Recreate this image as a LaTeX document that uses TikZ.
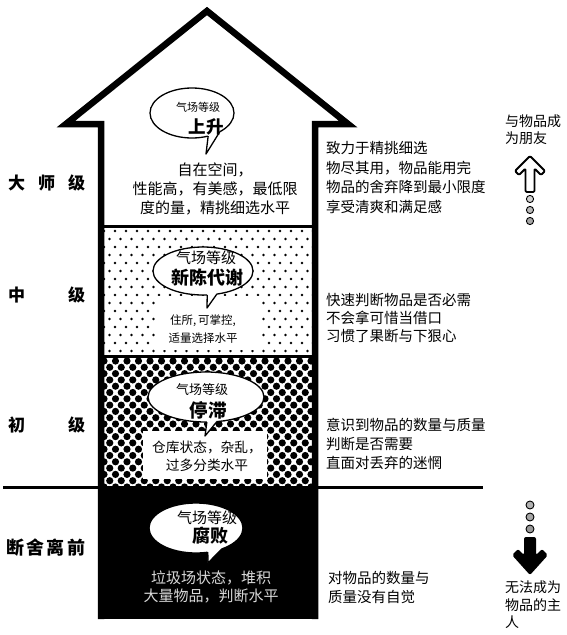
\documentclass[tikz,border=0pt]{standalone}
\usepackage{fontspec}
\setmainfont{Noto Sans CJK SC}
\usetikzlibrary{shapes.geometric,calc}
\tikzset{
  lbl/.style={anchor=west, inner sep=0pt, font=\fontsize{17}{17}\selectfont\bfseries},
  rtext/.style={anchor=west, align=left, inner sep=0pt},
  ctext/.style={align=center, inner sep=0pt},
  bubble/.style={ellipse, draw, fill=white, line width=1.3pt, inner sep=0pt, outer sep=0pt},
  tailline/.style={line width=1.3pt, line join=round},
  kicker/.style={inner sep=0pt},
  titletext/.style={inner sep=0pt},
}
\begin{document}
\begin{tikzpicture}[x=1pt,y=-1pt]
\useasboundingbox (0,0) rectangle (566,635);
\fill[white] (0,0) rectangle (566,635);

% horizontal base line
\coordinate (hl1) at (3,487);
\coordinate (hl2) at (483,487);
\draw[line width=3pt] (hl1) -- (hl2);

% section 2: sparse dots
\begin{scope}
  \clip (103,227) rectangle (313,355);
  \foreach \j in {0,...,16} {
    \foreach \i in {0,...,20} {
      \fill ({104+\i*11+mod(\j,2)*5.5},{231+\j*8}) circle (1.3pt);
    }
  }
\end{scope}

% section 3: dense dots
\begin{scope}
  \clip (103,357) rectangle (313,487);
  \foreach \j in {0,...,21} {
    \foreach \i in {0,...,19} {
      \fill ({104+\i*11.5+mod(\j,2)*5.75},{361+\j*6.3}) circle (3.6pt);
    }
  }
\end{scope}

% section 4: black
\fill[black] (98,486) rectangle (318,619);

% dividers
\draw[line width=3pt] (101,226) -- (315,226);
\draw[line width=3pt] (101,356) -- (315,356);

% big arrow outline
\draw[line width=6.5pt, miter limit=10] (101,619) -- (101,124) -- (66,124) -- (207,11) -- (348,124) -- (315,124) -- (315,619);

% white patches behind texts
\fill[white] (155,296) rectangle (262,350);
\fill[white] (143,431) rectangle (267,479);

% bubble 1
\node[bubble, minimum width=84pt, minimum height=50pt] (b1) at (192,113) {};
\coordinate (t1) at (206,154);
\fill[white] ($(b1.center)!0.8!(b1.-55)$) -- (b1.-55) -- (t1) -- (b1.-34) -- ($(b1.center)!0.8!(b1.-34)$) -- cycle;
\draw[tailline] (b1.-55) -- (t1) -- (b1.-34);
\node[kicker, font=\fontsize{11}{11}\selectfont] (k1) at (198,107) {气场等级};
\node[titletext, font=\fontsize{17.5}{17.5}\selectfont\bfseries] (h1) at (206,127) {上升};

% bubble 2
\node[bubble, minimum width=100pt, minimum height=48pt] (b2) at (203,271) {};
\coordinate (t2) at (207,308);
\fill[white] ($(b2.center)!0.8!(b2.-80)$) -- (b2.-80) -- (t2) -- (b2.-59) -- ($(b2.center)!0.8!(b2.-59)$) -- cycle;
\draw[tailline] (b2.-80) -- (t2) -- (b2.-59);
\node[kicker, font=\fontsize{15}{15}\selectfont] (k2) at (206,258) {气场等级};
\node[titletext, font=\fontsize{18}{18}\selectfont\bfseries] (h2) at (207,278) {新陈代谢};

% bubble 3
\node[bubble, minimum width=116pt, minimum height=50pt] (b3) at (206,397) {};
\coordinate (t3) at (205,436);
\fill[white] ($(b3.center)!0.8!(b3.-88)$) -- (b3.-88) -- (t3) -- (b3.-66) -- ($(b3.center)!0.8!(b3.-66)$) -- cycle;
\draw[tailline] (b3.-88) -- (t3) -- (b3.-66);
\node[kicker, font=\fontsize{13}{13}\selectfont] (k3) at (202,390) {气场等级};
\node[titletext, font=\fontsize{18.5}{18.5}\selectfont\bfseries] (h3) at (208,410) {停滞};

% bubble 4
\node[bubble, minimum width=94pt, minimum height=50pt] (b4) at (196,528) {};
\coordinate (t4) at (208,563);
\fill[white] ($(b4.center)!0.8!(b4.-64)$) -- (b4.-64) -- (t4) -- (b4.-39) -- ($(b4.center)!0.8!(b4.-39)$) -- cycle;
\draw[tailline] (b4.-64) -- (t4) -- (b4.-39);
\node[kicker, font=\fontsize{15}{15}\selectfont] (k4) at (207,518) {气场等级};
\node[titletext, font=\fontsize{18}{18}\selectfont\bfseries] (h4) at (210,536) {腐败};

% texts inside arrow
\node[ctext, font=\fontsize{15}{19}\selectfont] (s1) at (215,189) {自在空间，\\性能高，有美感，最低限\\度的量，精挑细选水平};
\node[ctext, font=\fontsize{11.5}{18}\selectfont] (s2) at (203,329) {住所,\,可掌控,\\适量选择水平};
\node[ctext, font=\fontsize{13.7}{18}\selectfont] (s3) at (207,456) {仓库状态，杂乱，\\过多分类水平};
\node[ctext, text=white!85!black, font=\fontsize{15}{18}\selectfont] (s4) at (211,587) {垃圾场状态，堆积\\大量物品，判断水平};

% left labels
\node[lbl] (l1) at (8,183) {\makebox[77pt][s]{大\hfill 师\hfill 级}};
\node[lbl] (l2) at (8,295) {\makebox[77pt][s]{中\hfill 级}};
\node[lbl] (l3) at (8,425) {\makebox[77pt][s]{初\hfill 级}};
\node[lbl, font=\fontsize{18}{18}\selectfont\bfseries] (l4) at (6,548) {\makebox[79pt][s]{断\hfill 舍\hfill 离\hfill 前}};

% right texts
\node[rtext, font=\fontsize{14.5}{19.7}\selectfont] (r1) at (326,177.5) {致力于精挑细选\\物尽其用，物品能用完\\物品的舍弃降到最小限度\\享受清爽和满足感};
\node[rtext, font=\fontsize{14.5}{18}\selectfont] (r2) at (326,318) {快速判断物品是否必需\\不会拿可惜当借口\\习惯了果断与下狠心};
\node[rtext, font=\fontsize{14.5}{19}\selectfont] (r3) at (326,444) {意识到物品的数量与质量\\判断是否需要\\直面对丢弃的迷惘};
\node[rtext, font=\fontsize{14.5}{19}\selectfont] (r4) at (328,587.5) {对物品的数量与\\质量没有自觉};

% far right texts
\node[rtext, font=\fontsize{14}{17}\selectfont] (f1) at (505,130) {与物品成\\为朋友};
\node[rtext, font=\fontsize{14}{17.5}\selectfont] (f2) at (505,605) {无法成为\\物品的主\\人};

% hollow up arrow
\draw[line width=1.8pt, line join=round, fill=white, rounded corners=1.2pt]
  (530,156) -- (545,171) -- (541,175) -- (534.5,168.5) -- (534.5,192) -- (525.5,192) -- (525.5,168.5) -- (519,175) -- (515,171) -- cycle;
\filldraw[fill=gray!35, line width=0.9pt] (530,199) circle (3.6pt);
\filldraw[fill=gray!55, line width=0.9pt] (530,210) circle (3.6pt);
\filldraw[fill=gray!70, line width=0.9pt] (530,221) circle (3.6pt);

% down black arrow
\filldraw[fill=gray!60, line width=0.9pt] (530,505) circle (4pt);
\filldraw[fill=gray!70, line width=0.9pt] (530,517) circle (4pt);
\filldraw[fill=gray!80, line width=0.9pt] (530,529) circle (4pt);
\fill[black, rounded corners=2pt]
  (524,537) -- (536,537) -- (536,555) -- (542,549) -- (548,555) -- (530,575) -- (512,555) -- (518,549) -- (524,555) -- cycle;
\end{tikzpicture}
\end{document}
